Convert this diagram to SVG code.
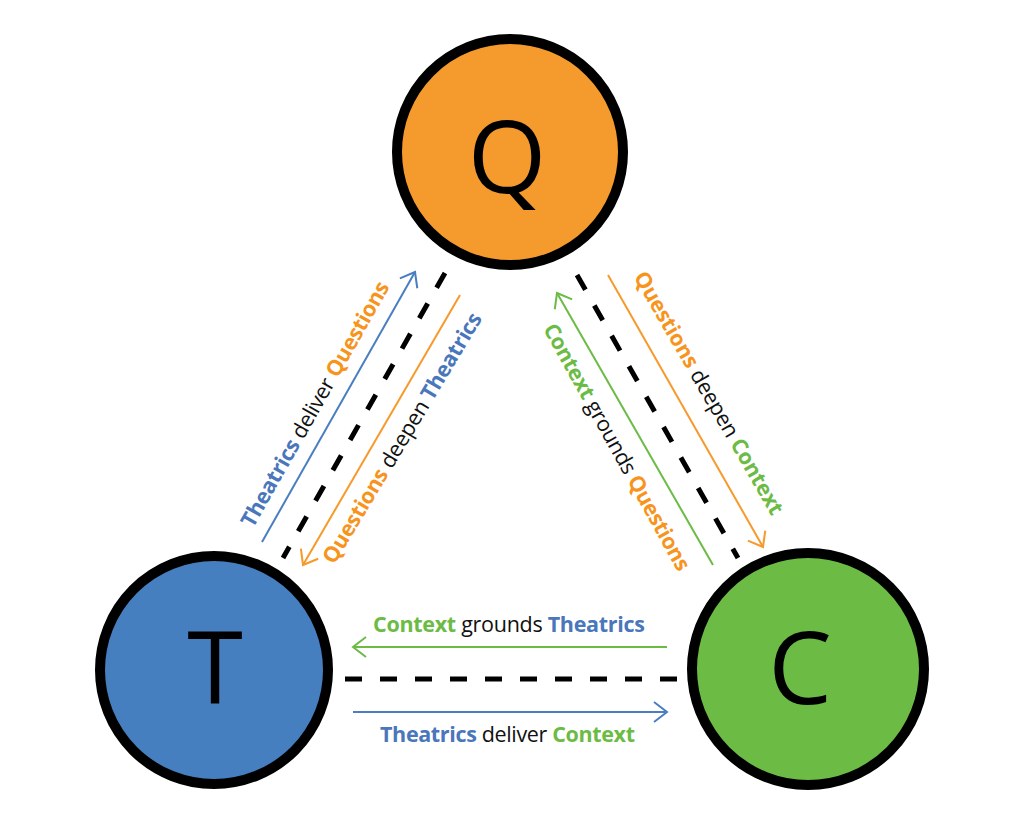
<svg xmlns="http://www.w3.org/2000/svg" width="1024" height="817" viewBox="0 0 1024 817">
<style>
.node{stroke:#000;stroke-width:10}
.big{font-family:"Open Sans","Liberation Sans",sans-serif;font-size:101px;fill:#000;text-anchor:middle}
.lbl{font-family:"Open Sans","Liberation Sans",sans-serif;font-size:21.5px;fill:#111;text-anchor:middle}
.b{font-weight:700}
.cb{fill:#4A76BB}.co{fill:#F7941D}.cg{fill:#6CBB45}
.dash{stroke:#000;stroke-width:5;stroke-dasharray:17 18;fill:none}
.ar{stroke-width:2;fill:none}
</style>
<defs>
<marker id="mb" markerUnits="userSpaceOnUse" orient="auto" overflow="visible" markerWidth="1" markerHeight="1"><path d="M-13,-10 L0,0 L-13,10" fill="none" stroke="#4A7EC1" stroke-width="2"/></marker>
<marker id="mo" markerUnits="userSpaceOnUse" orient="auto" overflow="visible" markerWidth="1" markerHeight="1"><path d="M-13,-10 L0,0 L-13,10" fill="none" stroke="#F7992B" stroke-width="2"/></marker>
<marker id="mg" markerUnits="userSpaceOnUse" orient="auto" overflow="visible" markerWidth="1" markerHeight="1"><path d="M-13,-10 L0,0 L-13,10" fill="none" stroke="#6CBB45" stroke-width="2"/></marker>
</defs>
<rect width="1024" height="817" fill="#fff"/>
<g id="connectors">
<line class="dash" x1="445" y1="273" x2="283" y2="558"/>
<line class="dash" x1="577" y1="275" x2="738" y2="558"/>
<line class="dash" x1="345" y1="679" x2="680" y2="679"/>
<line class="ar" stroke="#4A7EC1" x1="262" y1="542" x2="415" y2="272" marker-end="url(#mb)"/>
<line class="ar" stroke="#F7992B" x1="460" y1="295" x2="303" y2="565" marker-end="url(#mo)"/>
<line class="ar" stroke="#6CBB45" x1="713" y1="565" x2="557" y2="293" marker-end="url(#mg)"/>
<line class="ar" stroke="#F7992B" x1="608" y1="275" x2="763" y2="547" marker-end="url(#mo)"/>
<line class="ar" stroke="#6CBB45" x1="667" y1="647" x2="353" y2="647" marker-end="url(#mg)"/>
<line class="ar" stroke="#4A7EC1" x1="353" y1="712" x2="667" y2="712" marker-end="url(#mb)"/>
<text class="lbl" transform="translate(321.5,407.7) rotate(-60.5)" textLength="278"><tspan class="b cb">Theatrics</tspan> deliver <tspan class="b co">Questions</tspan></text>
<text class="lbl" transform="translate(408.5,441.7) rotate(-59)" textLength="288"><tspan class="b co">Questions</tspan> deepen <tspan class="b cb">Theatrics</tspan></text>
<text class="lbl" transform="translate(610.5,450.7) rotate(61)" textLength="279"><tspan class="b cg">Context</tspan> grounds <tspan class="b co">Questions</tspan></text>
<text class="lbl" transform="translate(702.5,396.7) rotate(60)" textLength="277"><tspan class="b co">Questions</tspan> deepen <tspan class="b cg">Context</tspan></text>
<text class="lbl" x="509" y="632" textLength="272"><tspan class="b cg">Context</tspan> grounds <tspan class="b cb">Theatrics</tspan></text>
<text class="lbl" x="507.5" y="742" textLength="255"><tspan class="b cb">Theatrics</tspan> deliver <tspan class="b cg">Context</tspan></text>
</g>
<g id="node-Q">
<circle class="node" cx="510" cy="152" r="113" fill="#F59B2D"/>
<text class="big" x="507" y="193">Q</text>
</g>
<g id="node-T">
<circle class="node" cx="214" cy="670" r="114" fill="#467FC0"/>
<text class="big" x="215" y="704">T</text>
</g>
<g id="node-C">
<circle class="node" cx="808" cy="669" r="116" fill="#6CBB45"/>
<text class="big" x="800" y="704">C</text>
</g>
</svg>
